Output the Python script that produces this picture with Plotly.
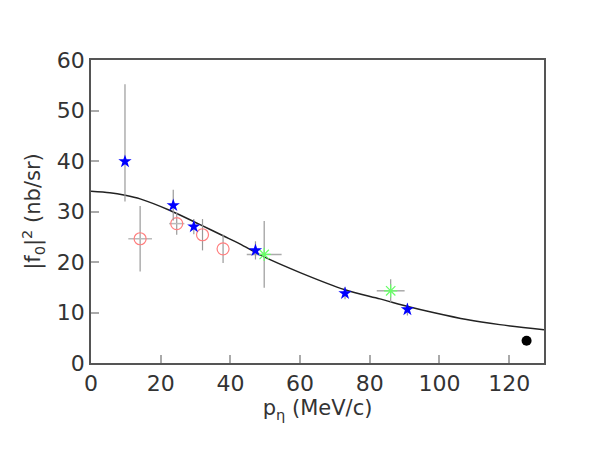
import plotly.graph_objects as go

# Blue stars
star_x = [9.75, 23.6, 29.5, 47.2, 72.9, 90.8]
star_y = [39.9, 31.2, 27.0, 22.3, 13.8, 10.6]
star_eplus = [15.3, 3.1, 1.5, 1.8, 1.2, 1.2]
star_eminus = [7.9, 3.0, 1.5, 1.8, 1.2, 1.2]

# Red open circles
circ_x = [14.1, 24.6, 32.0, 37.9]
circ_y = [24.6, 27.6, 25.4, 22.6]
circ_ey = [6.5, 2.2, 3.1, 2.8]
circ_ex = [3.4, 2.2, 0.0, 0.0]

# Green crosses
green_x = [49.7, 86.0]
green_y = [21.5, 14.3]
green_ey = [6.6, 2.3]
green_ex = [5.0, 4.0]

# Black point
black_x = [125.0]
black_y = [4.4]

# Fit curve
fit_x = [0, 5.4, 9.8, 14.1, 22.7, 31.3, 37.9, 42.7, 49.4, 60.0, 72.9, 82.9, 91.5, 98.2, 107.8, 117.3, 130.0]
fit_y = [34.0, 33.7, 33.2, 32.5, 30.2, 27.4, 25.2, 23.6, 21.1, 17.9, 14.5, 12.7, 11.1, 10.0, 8.6, 7.6, 6.6]

x_ticks = [0, 20, 40, 60, 80, 100, 120]
y_ticks = [0, 10, 20, 30, 40, 50, 60]

err_col = "#999999"
fig = go.Figure()

fig.add_trace(go.Scatter(x=fit_x, y=fit_y, mode="lines",
                         line=dict(color="#222222", width=1.5, shape="spline", smoothing=0.8),
                         showlegend=False, hoverinfo="skip"))

fig.add_trace(go.Scatter(
    x=circ_x, y=circ_y, mode="markers",
    marker=dict(symbol="circle-open", size=12, color="#ff7f7f", line=dict(width=1.2)),
    error_y=dict(type="data", array=circ_ey, color=err_col, thickness=1.2, width=0),
    error_x=dict(type="data", array=circ_ex, color="#bbbbbb", thickness=1.5, width=0),
    showlegend=False))

fig.add_trace(go.Scatter(
    x=green_x, y=green_y, mode="markers",
    marker=dict(symbol="asterisk-open", size=11, color="#66ff66", line=dict(width=1.2, color="#66ff66")),
    error_y=dict(type="data", array=green_ey, color=err_col, thickness=1.2, width=0),
    error_x=dict(type="data", array=green_ex, color="#aaaaaa", thickness=1.5, width=0),
    showlegend=False))

fig.add_trace(go.Scatter(
    x=star_x, y=star_y, mode="markers",
    marker=dict(symbol="star", size=10, color="#0000ff"),
    error_y=dict(type="data", symmetric=False, array=star_eplus, arrayminus=star_eminus,
                 color=err_col, thickness=1.2, width=0),
    showlegend=False))

fig.add_trace(go.Scatter(
    x=black_x, y=black_y, mode="markers",
    marker=dict(symbol="circle", size=10, color="#000000"),
    error_y=dict(type="data", array=[0.6], color=err_col, thickness=1.2, width=0),
    showlegend=False))

axis_font = dict(family="DejaVu Sans", size=22, color="#333333")
title_font = dict(family="DejaVu Sans", size=21, color="#333333")
fig.update_layout(
    width=605, height=454,
    margin=dict(l=83, r=69, t=52, b=99),
    paper_bgcolor="white", plot_bgcolor="white",
    font=axis_font,
    xaxis=dict(range=[0, 130], tickvals=x_ticks, ticks="inside", ticklen=8, tickwidth=1.5,
               tickcolor="#aaaaaa", showgrid=False, zeroline=False, showline=True, linecolor="#555555",
               linewidth=1.5, mirror=True, tickfont=axis_font, automargin=False,
               title=dict(text="p<sub>η</sub> (MeV/c)", font=title_font, standoff=4)),
    yaxis=dict(range=[0, 60], tickvals=y_ticks, ticks="inside", ticklen=8, tickwidth=1.5,
               tickcolor="#aaaaaa", showgrid=False, zeroline=False, showline=True, linecolor="#555555",
               linewidth=1.5, mirror=True, tickfont=axis_font, automargin=False,
               title=dict(text="|f<sub>0</sub>|<sup>2</sup> (nb/sr)", font=title_font, standoff=10)),
)

fig.write_html("out.html")
